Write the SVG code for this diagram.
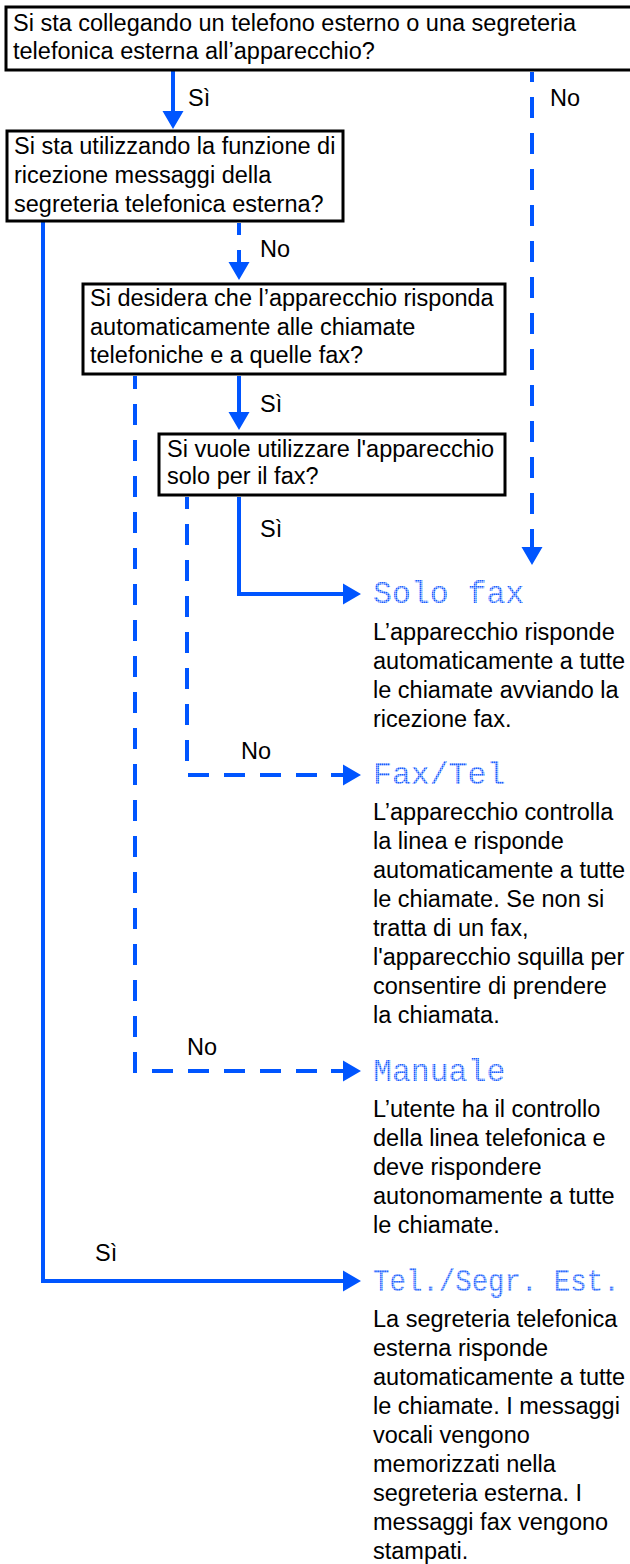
<svg xmlns="http://www.w3.org/2000/svg" width="630" height="1564" viewBox="0 0 630 1564">
<style>
.box{fill:#fff;stroke:#000;stroke-width:3}
.t{font-family:"Liberation Sans",Arial,Helvetica,sans-serif;font-size:23.5px;fill:#000}
.h{font-family:"Liberation Mono","DejaVu Sans Mono",monospace;font-size:31.5px;fill:url(#dots)}
.ln{fill:none;stroke:#0055ff;stroke-width:4;stroke-linejoin:miter;stroke-linecap:butt}
.dash{stroke-dasharray:21 15}
</style>
<defs>
<pattern id="dots" width="2" height="2" patternUnits="userSpaceOnUse"><rect width="1.6" height="1.6" fill="#1a5cff"/></pattern>
<marker id="ah" markerUnits="userSpaceOnUse" markerWidth="31" markerHeight="22" viewBox="-12 -11 31 22" refX="0" refY="0" orient="auto">
<path d="M-12,-2 H0 V-10.5 L18,0 L0,10.5 V2 H-12 Z" fill="#0055ff"/>
</marker>
</defs>

<g id="connectors">
<path class="ln" d="M173,71 V111" marker-end="url(#ah)"/>
<path class="ln dash" d="M532,72 V547" marker-end="url(#ah)" stroke-dashoffset="11"/>
<path class="ln dash" d="M239,223 V262" marker-end="url(#ah)" stroke-dashoffset="9"/>
<path class="ln" d="M43,222 V1281 H343" marker-end="url(#ah)"/>
<path class="ln" d="M239,376 V412" marker-end="url(#ah)"/>
<path class="ln dash" d="M135,376 V1071 H343" marker-end="url(#ah)" stroke-dashoffset="8"/>
<path class="ln" d="M239,497 V594 H343" marker-end="url(#ah)"/>
<path class="ln dash" d="M187,497 V775 H343" marker-end="url(#ah)" stroke-dashoffset="9"/>
<text class="t" x="188" y="106">Sì</text>
<text class="t" x="550" y="106">No</text>
<text class="t" x="260" y="257">No</text>
<text class="t" x="260" y="412">Sì</text>
<text class="t" x="260" y="537">Sì</text>
<text class="t" x="241" y="759">No</text>
<text class="t" x="187" y="1055">No</text>
<text class="t" x="95" y="1261">Sì</text>
</g>

<g id="q1">
<rect class="box" x="6" y="7" width="630" height="63"/>
<text class="t" x="13" y="31">Si sta collegando un telefono esterno o una segreteria</text>
<text class="t" x="13" y="59">telefonica esterna all’apparecchio?</text>
</g>

<g id="q2">
<rect class="box" x="7" y="131" width="336" height="90"/>
<text class="t" x="14" y="154">Si sta utilizzando la funzione di</text>
<text class="t" x="14" y="183">ricezione messaggi della</text>
<text class="t" x="14" y="212">segreteria telefonica esterna?</text>
</g>

<g id="q3">
<rect class="box" x="83" y="284" width="422" height="90"/>
<text class="t" x="90" y="306">Si desidera che l’apparecchio risponda</text>
<text class="t" x="90" y="335">automaticamente alle chiamate</text>
<text class="t" x="90" y="363">telefoniche e a quelle fax?</text>
</g>

<g id="q4">
<rect class="box" x="159" y="434" width="346" height="61"/>
<text class="t" x="167" y="457">Si vuole utilizzare l'apparecchio</text>
<text class="t" x="167" y="484">solo per il fax?</text>
</g>

<g id="solofax">
<text class="h" x="373" y="603">Solo fax</text>
<text class="t" x="373" y="640">L’apparecchio risponde</text>
<text class="t" x="373" y="669">automaticamente a tutte</text>
<text class="t" x="373" y="698">le chiamate avviando la</text>
<text class="t" x="373" y="727">ricezione fax.</text>
</g>

<g id="faxtel">
<text class="h" x="373" y="784">Fax/Tel</text>
<text class="t" x="373" y="820">L’apparecchio controlla</text>
<text class="t" x="373" y="849">la linea e risponde</text>
<text class="t" x="373" y="878">automaticamente a tutte</text>
<text class="t" x="373" y="907">le chiamate. Se non si</text>
<text class="t" x="373" y="936">tratta di un fax,</text>
<text class="t" x="373" y="965">l'apparecchio squilla per</text>
<text class="t" x="373" y="994">consentire di prendere</text>
<text class="t" x="373" y="1023">la chiamata.</text>
</g>

<g id="manuale">
<text class="h" x="373" y="1081">Manuale</text>
<text class="t" x="373" y="1117">L’utente ha il controllo</text>
<text class="t" x="373" y="1146">della linea telefonica e</text>
<text class="t" x="373" y="1175">deve rispondere</text>
<text class="t" x="373" y="1204">autonomamente a tutte</text>
<text class="t" x="373" y="1233">le chiamate.</text>
</g>

<g id="telsegr">
<text class="h" transform="translate(373,1291) scale(0.87,1)" x="0" y="0">Tel./Segr. Est.</text>
<text class="t" x="373" y="1327">La segreteria telefonica</text>
<text class="t" x="373" y="1356">esterna risponde</text>
<text class="t" x="373" y="1385">automaticamente a tutte</text>
<text class="t" x="373" y="1414">le chiamate. I messaggi</text>
<text class="t" x="373" y="1443">vocali vengono</text>
<text class="t" x="373" y="1472">memorizzati nella</text>
<text class="t" x="373" y="1501">segreteria esterna. I</text>
<text class="t" x="373" y="1530">messaggi fax vengono</text>
<text class="t" x="373" y="1559">stampati.</text>
</g>
</svg>
